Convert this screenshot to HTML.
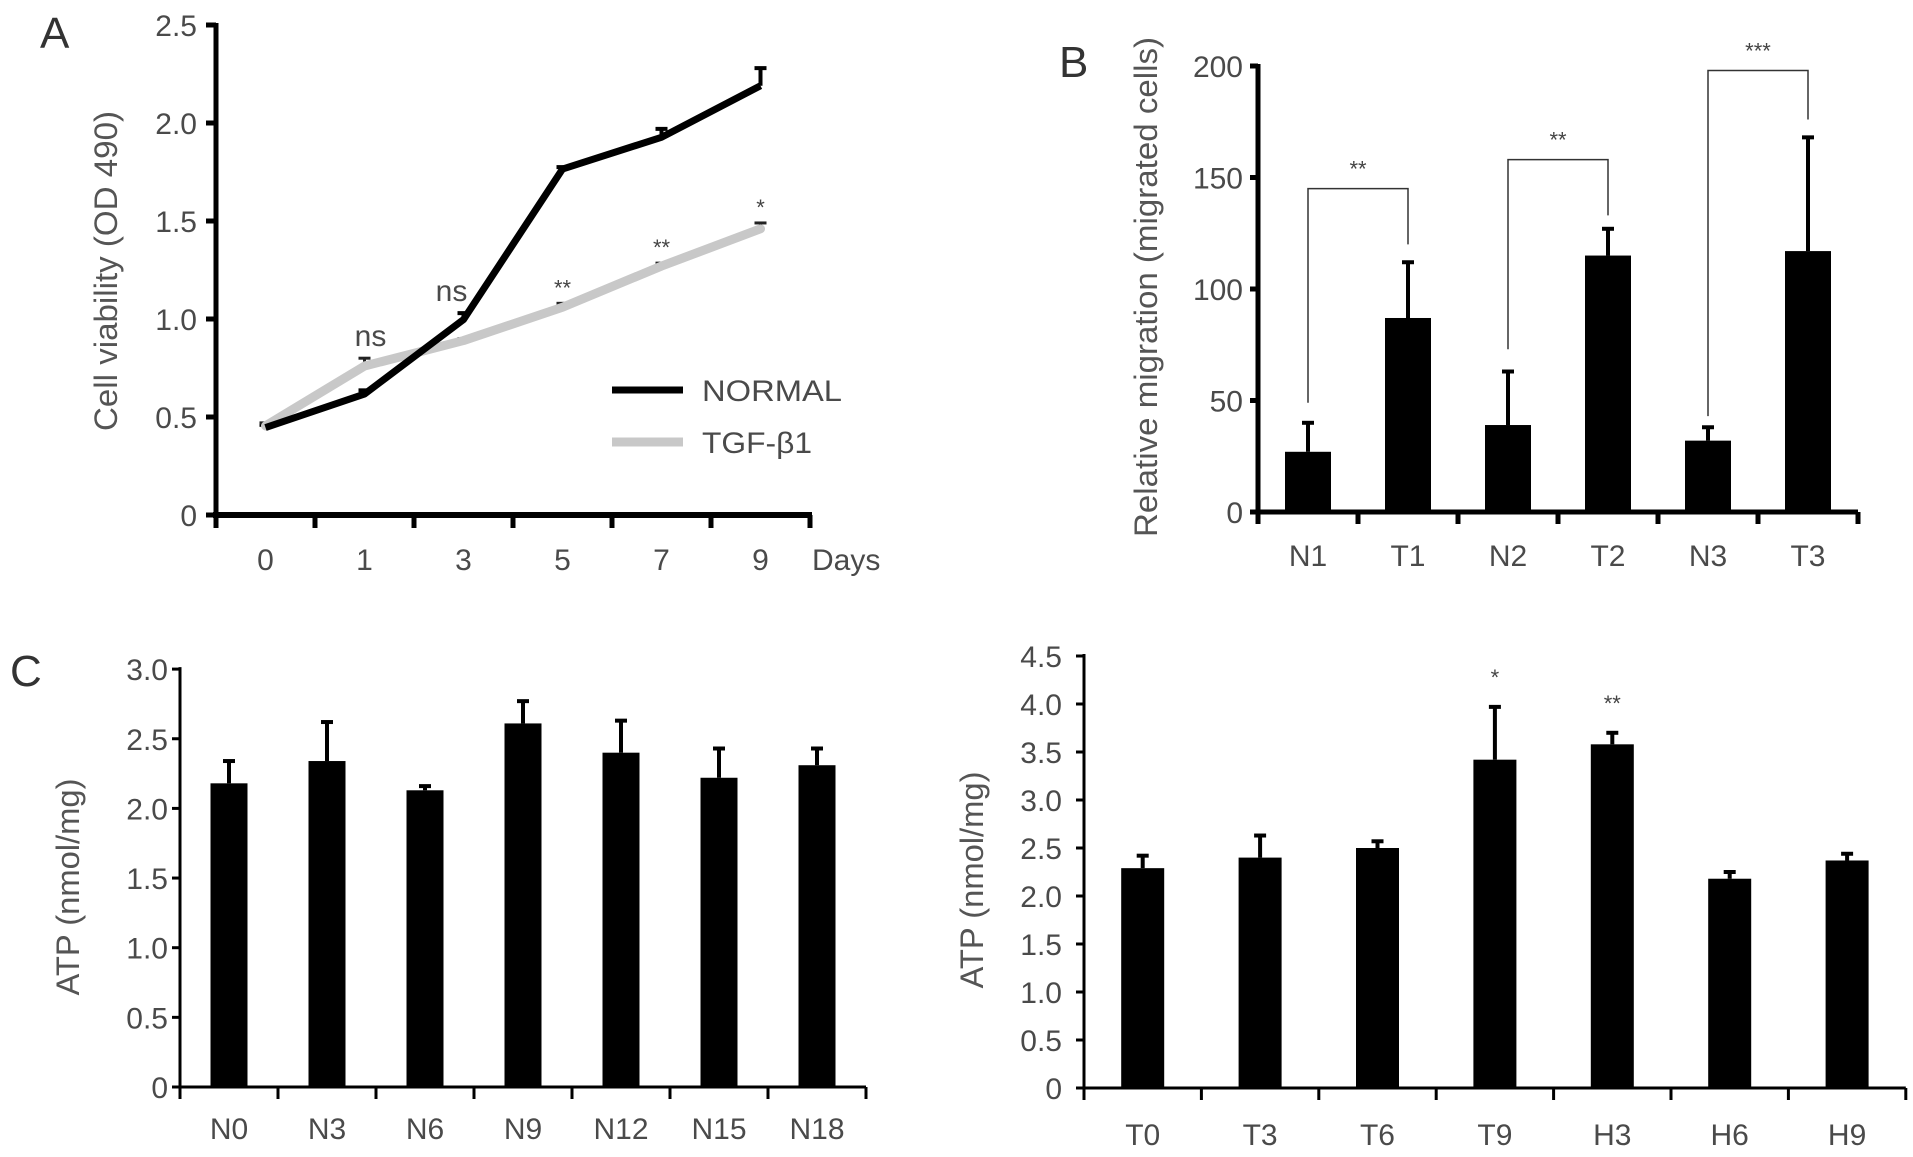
<!DOCTYPE html>
<html><head><meta charset="utf-8"><style>
html,body{margin:0;padding:0;background:#fff;}
svg{display:block;font-family:"Liberation Sans",Arial,sans-serif;}
.tk{fill:#4a4a4a;font-size:30px;}
.tt{fill:#555;font-size:32px;}
.pl{fill:#333;font-size:44px;}
.st{fill:#444;font-size:22px;}
</style></head><body>
<svg id="fig" width="1913" height="1157" viewBox="0 0 1913 1157" xmlns="http://www.w3.org/2000/svg">
<g id="pa"></g>
<g id="pb"></g>
<g id="pc1"></g>
<g id="pc2"></g>
</svg>
<script>
// Panel A data
const aDays = ["0","1","3","5","7","9"];
const aNormal = [0.446, 0.617, 0.997, 1.765, 1.927, 2.19];
const aNormalErr = [0.46, 0.636, 1.03, 1.775, 1.97, 2.28];
const aTgf = [0.455, 0.76, 0.89, 1.06, 1.27, 1.46];
const aTgfErr = [0.47, 0.80, 0.90, 1.08, 1.285, 1.49];
const aSig = ["", "ns", "ns", "**", "**", "*"];
const aYTicks = [0, 0.5, 1.0, 1.5, 2.0, 2.5];
const aYLabels = ["0", "0.5", "1.0", "1.5", "2.0", "2.5"];
// Panel B data
const bCats = ["N1","T1","N2","T2","N3","T3"];
const bVals = [27, 87, 39, 115, 32, 117];
const bErr = [40, 112, 63, 127, 38, 168];
const bYTicks = [0, 50, 100, 150, 200];
const bBrackets = [[0,1,145,49,120,"**"],[2,3,158,73,133,"**"],[4,5,198,43,176,"***"]];
// Panel C left
const c1Cats = ["N0","N3","N6","N9","N12","N15","N18"];
const c1Vals = [2.18, 2.34, 2.13, 2.61, 2.40, 2.22, 2.31];
const c1Err = [2.34, 2.62, 2.16, 2.77, 2.63, 2.43, 2.43];
const c1YTicks = [0, 0.5, 1.0, 1.5, 2.0, 2.5, 3.0];
const c1YLabels = ["0","0.5","1.0","1.5","2.0","2.5","3.0"];
// Panel C right
const c2Cats = ["T0","T3","T6","T9","H3","H6","H9"];
const c2Vals = [2.29, 2.40, 2.50, 3.42, 3.58, 2.18, 2.37];
const c2Err = [2.42, 2.63, 2.57, 3.97, 3.70, 2.25, 2.44];
const c2Sig = ["", "", "", "*", "**", "", ""];
const c2YTicks = [0, 0.5, 1.0, 1.5, 2.0, 2.5, 3.0, 3.5, 4.0, 4.5];
const c2YLabels = ["0","0.5","1.0","1.5","2.0","2.5","3.0","3.5","4.0","4.5"];

const NS = "http://www.w3.org/2000/svg";
function mk(parent, tag, attrs, text){
  const e = document.createElementNS(NS, tag);
  for (const k in attrs) e.setAttribute(k, attrs[k]);
  if (text !== undefined) e.textContent = text;
  parent.appendChild(e);
  return e;
}
function line(p,x1,y1,x2,y2,w,c,name){
  const e = mk(p,"line",{x1:x1,y1:y1,x2:x2,y2:y2,stroke:c||"#000","stroke-width":w});
  
  
  return e;
}
function txt(p,x,y,s,cls,anchor,name,extra){
  const e = mk(p,"text",Object.assign({x:x,y:y,class:cls,"text-anchor":anchor||"middle"},extra||{}),s);
  
  
  return e;
}
function ytitle(p,cx,cy,s,len,name){
  const e = txt(p,0,0,s,"tt","middle",name,{transform:"translate("+cx+","+cy+") rotate(-90)",textLength:len,lengthAdjust:"spacingAndGlyphs",dy:"11"});
  return e;
}

// Generic bar chart
function barChart(g, o){
  const y = v => o.y0 - (v - 0) * o.ppu;
  const xc = i => o.ax + (i + 0.5) * o.step;
  const xEnd = o.ax + o.step * o.cats.length;
  line(g,o.ax,y(o.ymax)-2,o.ax,o.y0+o.aw/2,o.aw,"#000","y-axis");
  line(g,o.ax-o.aw/2,o.y0,xEnd,o.y0,o.aw,"#000","x-axis");
  o.yticks.forEach((v,i)=>{
    line(g,o.ax-8,y(v),o.ax,y(v),o.aw,"#000","y-tick");
    txt(g,o.lblR,y(v)+11,o.ylabels[i],"tk","end","y-tick-label");
  });
  for (let i=0;i<=o.cats.length;i++){
    line(g,o.ax+i*o.step,o.y0,o.ax+i*o.step,o.y0+12,o.aw,"#000","x-tick");
  }
  o.cats.forEach((c,i)=>{
    const r = mk(g,"rect",{x:xc(i)-o.bw/2,y:y(o.vals[i]),width:o.bw,height:o.y0-y(o.vals[i]),fill:"#000"});
    
    
    line(g,xc(i),y(o.vals[i]),xc(i),y(o.err[i]),4,"#000","error-bar");
    line(g,xc(i)-6,y(o.err[i]),xc(i)+6,y(o.err[i]),4,"#000","error-cap");
    txt(g,xc(i),o.lblY,c,"tk","middle","x-tick-label");
    if (o.sig && o.sig[i]) txt(g,xc(i),y(o.err[i])-22,o.sig[i],"st","middle","significance-mark");
  });
  return {y:y,xc:xc};
}

// Panel A
(function(){
  const g = document.getElementById("pa");
  const ax=216, y0=515, ppu=196, step=99;
  const y = v => y0 - v*ppu;
  const xc = i => ax + (i+0.5)*step;
  txt(g,40,48,"A","pl","start","panel-label-a");
  line(g,ax,y(2.5)-2,ax,y0+3,5,"#000","y-axis");
  line(g,ax-3,y0,ax+step*6+2,y0,6,"#000","x-axis");
  aYTicks.forEach((v,i)=>{
    line(g,ax-10,y(v),ax,y(v),5,"#000","y-tick");
    txt(g,197,y(v)+11,aYLabels[i],"tk","end","y-tick-label");
  });
  for (let i=0;i<=6;i++) line(g,ax+i*step,y0,ax+i*step,y0+13,5,"#000","x-tick");
  aDays.forEach((d,i)=>txt(g,xc(i),570,d,"tk","middle","x-tick-label"));
  txt(g,812,570,"Days","tk","start","x-axis-title");
  ytitle(g,106,271,"Cell viability (OD 490)",320,"y-axis-title");
  // error bars
  aNormal.forEach((v,i)=>{
    line(g,xc(i),y(v),xc(i),y(aNormalErr[i]),4,"#000","normal-error-bar");
    line(g,xc(i)-6,y(aNormalErr[i]),xc(i)+6,y(aNormalErr[i]),4,"#000","normal-error-cap");
  });
  aTgf.forEach((v,i)=>{
    line(g,xc(i),y(v),xc(i),y(aTgfErr[i]),3,"#222","tgf-error-bar");
    line(g,xc(i)-6,y(aTgfErr[i]),xc(i)+6,y(aTgfErr[i]),3,"#222","tgf-error-cap");
  });
  const pn = aNormal.map((v,i)=>xc(i)+","+y(v)).join(" ");
  const pt = aTgf.map((v,i)=>xc(i)+","+y(v)).join(" ");
  const lt = mk(g,"polyline",{points:pt,fill:"none",stroke:"#c8c8c8","stroke-width":9,"stroke-linejoin":"round","stroke-linecap":"round"});
  
  
  const ln = mk(g,"polyline",{points:pn,fill:"none",stroke:"#000","stroke-width":7,"stroke-linejoin":"round"});
  
  
  aSig.forEach((s,i)=>{
    if(!s) return;
    const top = Math.max(aTgfErr[i], i===3?0:0);
    if (s==="ns") txt(g,xc(i)+(i===2?-12:6),y(Math.max(aTgfErr[i],aNormalErr[i]))-12,s,"tk","middle","significance-mark");
    else txt(g,xc(i),y(aTgfErr[i])-8,s,"st","middle","significance-mark");
  });
  // legend
  line(g,612,390,683,390,7,"#000","legend-normal-swatch");
  txt(g,702,401,"NORMAL","tk","start","legend-normal-label",{textLength:140,lengthAdjust:"spacingAndGlyphs"});
  line(g,612,442,683,442,9,"#c8c8c8","legend-tgf-swatch");
  txt(g,702,453,"TGF-β1","tk","start","legend-tgf-label",{textLength:110,lengthAdjust:"spacingAndGlyphs"});
})();

// Panel B
(function(){
  const g = document.getElementById("pb");
  txt(g,1059,77,"B","pl","start","panel-label-b");
  const o = {ax:1258,y0:512,ppu:2.23,step:100,bw:46,cats:bCats,vals:bVals,err:bErr,
    yticks:bYTicks,ylabels:bYTicks.map(String),ymax:200,lblR:1243,lblY:566,aw:5};
  const s = barChart(g,o);
  ytitle(g,1146,287,"Relative migration (migrated cells)",500,"y-axis-title");
  bBrackets.forEach(b=>{
    const x1=s.xc(b[0]), x2=s.xc(b[1]);
    const p = mk(g,"polyline",{points:x1+","+s.y(b[3])+" "+x1+","+s.y(b[2])+" "+x2+","+s.y(b[2])+" "+x2+","+s.y(b[4]),fill:"none",stroke:"#333","stroke-width":1.5});
    
    
    txt(g,(x1+x2)/2,s.y(b[2])-12,b[5],"st","middle","significance-mark");
  });
})();

// Panel C left
(function(){
  const g = document.getElementById("pc1");
  txt(g,10,686,"C","pl","start","panel-label-c");
  barChart(g,{ax:180,y0:1087,ppu:139.3,step:98,bw:37,cats:c1Cats,vals:c1Vals,err:c1Err,
    yticks:c1YTicks,ylabels:c1YLabels,ymax:3.0,lblR:168,lblY:1139,aw:3});
  ytitle(g,68,887,"ATP (nmol/mg)",217,"y-axis-title");
})();

// Panel C right
(function(){
  const g = document.getElementById("pc2");
  barChart(g,{ax:1084,y0:1088,ppu:96,step:117.4,bw:43,cats:c2Cats,vals:c2Vals,err:c2Err,sig:c2Sig,
    yticks:c2YTicks,ylabels:c2YLabels,ymax:4.5,lblR:1062,lblY:1145,aw:3});
  ytitle(g,972,880,"ATP (nmol/mg)",217,"y-axis-title");
})();
</script>
</body></html>
